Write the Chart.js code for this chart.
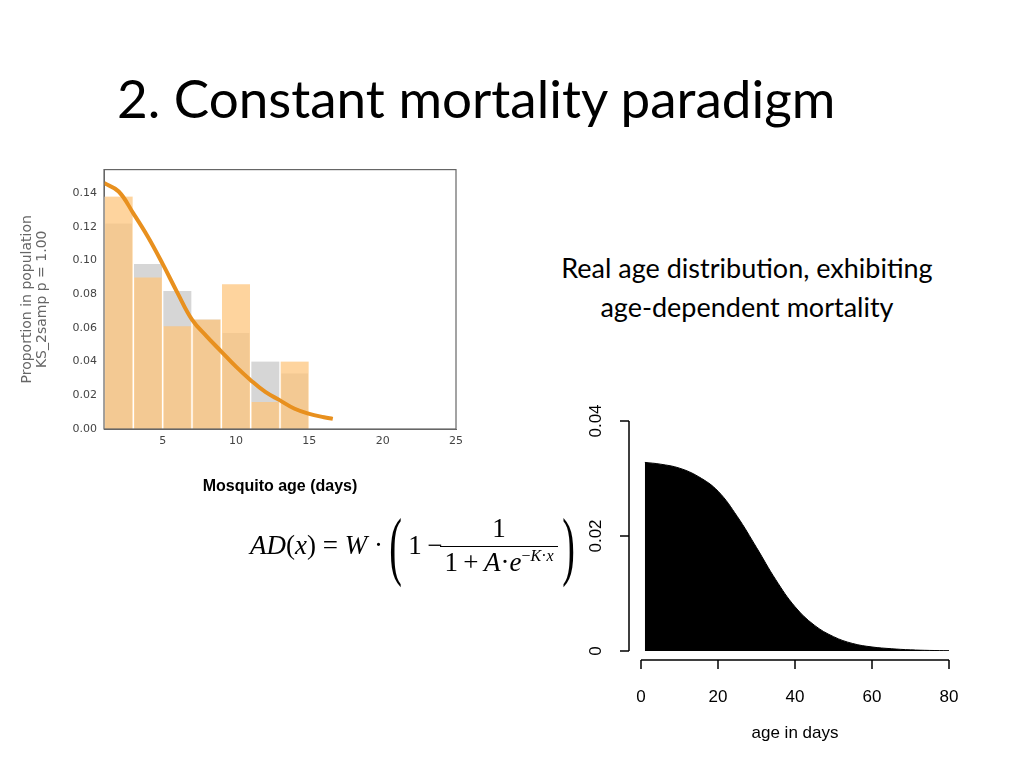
<!DOCTYPE html>
<html><head><meta charset="utf-8">
<script src="https://cdn.jsdelivr.net/npm/chart.js@4"></script>
<style>
body{margin:0;width:1024px;height:768px;background:#fff;position:relative;overflow:hidden;font-family:Lato,"Open Sans",sans-serif}
#title{position:absolute;left:117px;top:66px;font-size:53px;color:#000;white-space:nowrap}
#sub{position:absolute;left:500px;top:248px;width:494px;text-align:center;font-size:27px;line-height:39px;color:#000}
#c1{position:absolute;left:20px;top:160px}
#c2{position:absolute;left:580px;top:390px}
#f{position:absolute;left:250px;top:505px;font-family:"Liberation Serif","DejaVu Serif",serif;font-size:27px;display:flex;align-items:center;height:80px}
.par{font-size:76px;transform:scaleX(0.5);display:inline-block;line-height:76px;font-weight:100}
.frac{display:inline-flex;flex-direction:column;align-items:center;margin:0 2px}
.frac .n{border-bottom:1.5px solid #000;padding:0 4px 2px;width:100%;text-align:center}
</style></head><body>
<div id="title">2. Constant mortality paradigm</div>
<div id="sub">Real age distribution, exhibiting<br>age-dependent mortality</div>
<canvas id="c1" width="450" height="340"></canvas>
<canvas id="c2" width="400" height="370"></canvas>
<div id="f"><i>AD</i>(<i>x</i>)&nbsp;=&nbsp;<i>W</i>&nbsp;·<span class="par">(</span>1&thinsp;−<span class="frac"><span class="n">1</span><span>1&thinsp;+&thinsp;<i>A</i>·<i>e</i><sup style="font-size:16px">−<i>K</i>·<i>x</i></sup></span></span><span class="par">)</span></div>
<script>
// Left chart: histogram bins (centers), grey & orange series, fitted curve
const binCenters=[2,4,6,8,10,12,14];
const greyVals=[0.122,0.098,0.082,0.065,0.057,0.040,0.033];
const orangeVals=[0.138,0.090,0.061,0.065,0.086,0.016,0.040];
const curveX=[1,2,3,4,5,6,7,8,9,10,11,12,13,14,15,16,16.6];
const curveY=[0.146,0.141,0.128,0.114,0.098,0.081,0.065,0.055,0.046,0.037,0.029,0.022,0.017,0.012,0.009,0.007,0.006];
const leftXTicks=[5,10,15,20,25];
// Right chart: age-dependent distribution
const ageX=[1,5,10,15,20,25,30,35,40,45,50,55,60,65,70,75,80];
const ageY=[0.0328,0.0325,0.0318,0.0303,0.0278,0.0234,0.0180,0.0124,0.0077,0.0045,0.0025,0.0013,0.0007,0.0004,0.0002,0.0001,0.00005];
const rightXTicks=[0,20,40,60,80];
const rightYTicks=[0,0.02,0.04];

const frame={id:'frame',afterDatasetsDraw(c){const a=c.chartArea,x=c.ctx;x.save();x.strokeStyle='#666';x.lineWidth=1.2;x.strokeRect(a.left,a.top,a.right-a.left,a.bottom-a.top);x.restore();}};
new Chart(document.getElementById('c1'),{
 data:{datasets:[
  {type:'line',data:curveX.map((v,i)=>({x:v,y:curveY[i]})),borderColor:'#e8901e',borderWidth:4,pointRadius:0,tension:0.4,order:0},
  {type:'bar',data:binCenters.map((v,i)=>({x:v,y:greyVals[i]})),backgroundColor:'rgba(200,200,200,0.75)',borderColor:'#fff',borderWidth:{left:1,right:1},barPercentage:1,categoryPercentage:1,grouped:false,order:2},
  {type:'bar',data:binCenters.map((v,i)=>({x:v,y:orangeVals[i]})),backgroundColor:'rgba(253,196,120,0.72)',borderColor:'#fff',borderWidth:{left:1,right:1},barPercentage:1,categoryPercentage:1,grouped:false,order:1}
 ]},
 options:{responsive:false,animation:false,events:[],layout:{padding:{top:2,right:14}},
  plugins:{legend:{display:false},tooltip:{enabled:false}},
  scales:{
   x:{type:'linear',min:1,max:25,offset:false,grid:{display:false,drawTicks:true,tickLength:4},border:{color:'#666'},
      afterBuildTicks(s){s.ticks=leftXTicks.map(v=>({value:v}));},
      ticks:{color:'#444',font:{family:'DejaVu Sans',size:11},maxRotation:0,padding:2},
      title:{display:true,text:'Mosquito age (days)',color:'#000',font:{family:'Liberation Sans',size:16,weight:'bold'},padding:{top:22}},
      afterFit(s){s.height=71;}},
   y:{min:0,max:0.154,grid:{display:false,tickLength:4},border:{color:'#666'},
      afterBuildTicks(s){s.ticks=[0,0.02,0.04,0.06,0.08,0.1,0.12,0.14].map(v=>({value:v}));},
      ticks:{color:'#444',font:{family:'DejaVu Sans',size:11},callback:v=>v.toFixed(2),padding:3},
      title:{display:true,text:['Proportion in population','KS_2samp p = 1.00'],color:'#666',font:{family:'DejaVu Sans',size:14,lineHeight:1.05},padding:0},
      afterFit(s){s.width=84;}}
  }},
 plugins:[frame]
});

const rAxes={id:'raxes',afterDraw(c){const x=c.ctx,a=c.chartArea,sx=c.scales.x,sy=c.scales.y;x.save();x.strokeStyle='#000';x.lineWidth=1.5;x.fillStyle='#000';
 const ax=a.left-12, ay=a.bottom+9;
 x.beginPath();x.moveTo(ax,sy.getPixelForValue(0));x.lineTo(ax,sy.getPixelForValue(0.04));
 rightYTicks.forEach(v=>{const p=sy.getPixelForValue(v);x.moveTo(ax,p);x.lineTo(ax-9,p);});
 x.moveTo(sx.getPixelForValue(0),ay);x.lineTo(sx.getPixelForValue(80),ay);
 rightXTicks.forEach(v=>{const p=sx.getPixelForValue(v);x.moveTo(p,ay);x.lineTo(p,ay+9);});
 x.stroke();
 x.font='17px "Liberation Sans"';x.textAlign='center';x.textBaseline='middle';
 rightXTicks.forEach(v=>x.fillText(String(v),sx.getPixelForValue(v),ay+37));
 x.fillText('age in days',(a.left+a.right)/2,ay+73);
 rightYTicks.forEach(v=>{x.save();x.translate(ax-33,sy.getPixelForValue(v));x.rotate(-Math.PI/2);x.fillText(v===0?'0':v.toFixed(2),0,0);x.restore();});
 x.restore();}};
new Chart(document.getElementById('c2'),{
 type:'line',
 data:{datasets:[{data:ageX.map((v,i)=>({x:v,y:ageY[i]})),borderColor:'#000',backgroundColor:'#000',fill:'origin',borderWidth:1,pointRadius:0,tension:0.4}]},
 options:{responsive:false,animation:false,events:[],layout:{padding:{top:31,right:31}},
  plugins:{legend:{display:false},tooltip:{enabled:false}},
  scales:{
   x:{type:'linear',min:0,max:80,display:true,grid:{display:false},border:{display:false},ticks:{display:false},afterFit(s){s.height=109;}},
   y:{min:0,max:0.04,display:true,grid:{display:false},border:{display:false},ticks:{display:false},afterFit(s){s.width=61;}}
  }},
 plugins:[rAxes]
});
</script>
</body></html>
